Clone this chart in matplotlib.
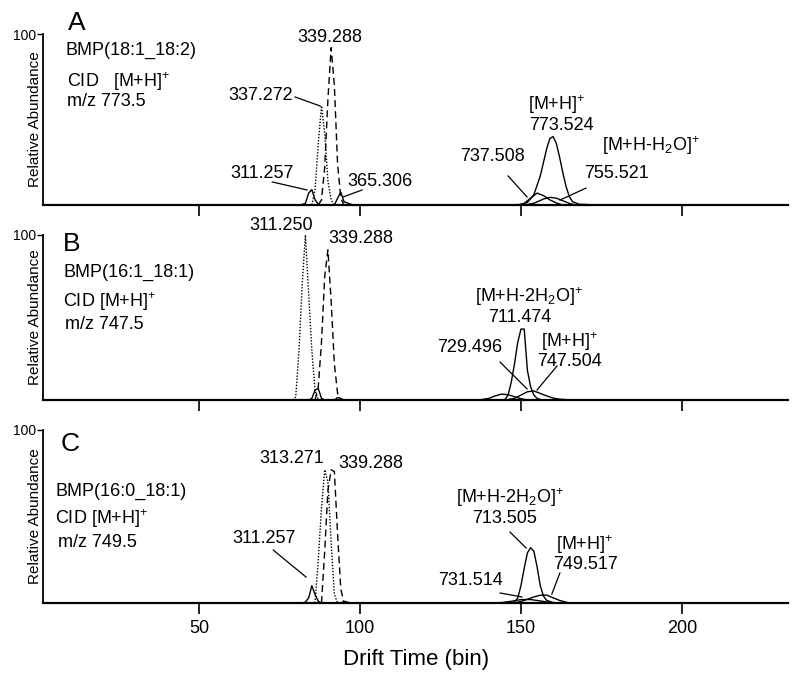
import matplotlib
matplotlib.use("Agg")
import matplotlib.pyplot as plt

plt.rcParams['font.family'] = ['Liberation Sans', 'DejaVu Sans']
plt.rcParams['mathtext.fontset'] = 'custom'
plt.rcParams['mathtext.rm'] = 'Liberation Sans'
plt.rcParams['mathtext.default'] = 'regular'

# ---- panel A : BMP(18:1_18:2) ----
a339_x = [87, 88, 89, 90, 91, 92, 93, 94, 95]
a339_y = [0, 3, 22, 62, 92, 70, 24, 4, 0]
a337_x = [85, 86, 87, 88, 89, 90, 91, 92]
a337_y = [0, 9, 36, 58, 42, 14, 3, 0]
a311_x = [81, 82, 83, 84, 85, 86, 87, 88]
a311_y = [0, 0.3, 1, 7, 9, 3, 0.5, 0]
a365_x = [92, 93, 94, 95, 96, 97, 98]
a365_y = [0, 4, 7.5, 2, 1.2, 0.5, 0]
a773_x = [144, 150, 152, 154, 156, 157, 158, 159, 160, 161, 162, 163, 164, 165, 166, 168, 174]
a773_y = [0, 0.3, 1.5, 6, 17, 25, 33, 39, 40, 36, 28, 19, 11, 5, 2, 0.5, 0]
a737_x = [149, 151, 153, 155, 157, 159, 161, 163]
a737_y = [0, 1, 4, 7, 5.5, 3, 1.2, 0]
a755_x = [151, 154, 157, 159, 161, 163, 165, 167]
a755_y = [0, 1, 3.5, 4.5, 4, 2.5, 1, 0]

# ---- panel B : BMP(16:1_18:1) ----
b311_x = [79, 80, 81, 82, 83, 84, 85, 86, 87]
b311_y = [0, 2, 30, 70, 100, 65, 30, 6, 0]
b339_x = [86, 87, 88, 89, 90, 91, 92, 93, 94]
b339_y = [0, 8, 35, 75, 91, 60, 22, 4, 0]
bsmall_x = [84, 85, 86, 87, 88, 89, 92, 93, 94, 95]
bsmall_y = [0, 1, 6, 7, 1, 0, 0, 1.5, 1, 0]
b711_x = [144, 145, 146, 147, 148, 149, 150, 151, 152, 153, 154, 155, 156, 158]
b711_y = [0, 0.3, 3, 11, 22, 35, 43, 43, 18, 8, 3, 1, 0.3, 0]
b747_x = [145, 148, 150, 152, 154, 156, 158, 160, 162, 166]
b747_y = [0, 1, 3, 5, 5.5, 4, 2.5, 1.2, 0.5, 0]
b729_x = [137, 140, 142, 144, 146, 148, 150, 152]
b729_y = [0, 1, 2.5, 3.6, 3.2, 2, 0.8, 0]

# ---- panel C : BMP(16:0_18:1) ----
c313_x = [86, 87, 88, 89, 90, 91, 92, 93]
c313_y = [0, 25, 55, 77, 70, 35, 5, 0]
c339_x = [88, 89, 90, 91, 92, 93, 94, 95]
c339_y = [0, 30, 65, 77, 76, 40, 8, 0]
c311_x = [82, 83, 84, 85, 86, 87, 88, 94, 95, 96, 97]
c311_y = [0, 0.5, 3, 10, 5, 1, 0, 0, 1, 0.5, 0]
c713_x = [146, 148, 149, 150, 151, 152, 153, 154, 155, 156, 157, 158, 160, 162]
c713_y = [0, 0.5, 3, 10, 20, 29, 32, 30, 21, 10, 4, 1.5, 0.3, 0]
c749_x = [148, 151, 154, 156, 158, 160, 162, 165]
c749_y = [0, 1.5, 3.5, 4.5, 4.6, 3, 1.5, 0]
c731_x = [143, 147, 150, 153, 156, 160]
c731_y = [0, 1, 2, 2, 1.2, 0]

xticks = [50, 100, 150, 200]

dotted = (0, (1, 1.2))
dashed = (0, (5, 3))

fig = plt.figure(figsize=(8, 6.78), dpi=100)
axA = fig.add_axes([0.054, 0.6976, 0.931, 0.2522])
axB = fig.add_axes([0.054, 0.410, 0.931, 0.2434])
axC = fig.add_axes([0.054, 0.1106, 0.931, 0.2552])

for ax in (axA, axB, axC):
    ax.set_xlim(1.5, 233)
    ax.set_ylim(0, 100)
    ax.spines['top'].set_visible(False)
    ax.spines['right'].set_visible(False)
    ax.spines['left'].set_linewidth(1.3)
    ax.spines['bottom'].set_linewidth(1.6)
    ax.set_yticks([100])
    ax.set_yticklabels(['100'], fontsize=10)
    ax.tick_params(axis='y', length=4, width=1, pad=1)
    ax.set_xticks(xticks)
    ax.tick_params(axis='x', length=8, width=1.2, labelsize=13, pad=4)
    ax.text(-0.011, 0.5, 'Relative Abundance', transform=ax.transAxes, rotation=90,
            ha='center', va='center', fontsize=11)
axA.set_xticklabels([])
axB.set_xticklabels([])
axC.set_xlabel('Drift Time (bin)', fontsize=16, labelpad=9)

lw = 1.0
k = 'black'


def line(ax, p, q):
    ax.plot(p, q, color=k, lw=0.9, clip_on=False)


# panel A
axA.plot(a339_x, a339_y, color=k, lw=lw, ls=dashed)
axA.plot(a337_x, a337_y, color=k, lw=lw, ls=dotted)
axA.plot(a311_x, a311_y, color=k, lw=lw)
axA.plot(a365_x, a365_y, color=k, lw=lw)
axA.plot(a773_x, a773_y, color=k, lw=lw)
axA.plot(a737_x, a737_y, color=k, lw=lw)
axA.plot(a755_x, a755_y, color=k, lw=lw)
axA.text(0.033, 1.064, 'A', transform=axA.transAxes, fontsize=19, va='center', ha='left')
axA.text(0.0295, 0.906, 'BMP(18:1_18:2)', transform=axA.transAxes, fontsize=13, va='center')
axA.text(0.032, 0.719, 'CID   [M+H]$^{+}$', transform=axA.transAxes, fontsize=13, va='center')
axA.text(0.032, 0.608, 'm/z 773.5', transform=axA.transAxes, fontsize=13, va='center')
axA.text(90.7, 98, '339.288', fontsize=13, ha='center', va='center')
axA.text(69.1, 64.3, '337.272', fontsize=13, ha='center', va='center')
line(axA, [79.8, 87.6], [63.2, 57.9])
axA.text(69.4, 18.7, '311.257', fontsize=13, ha='center', va='center')
line(axA, [72.7, 83.5], [13.5, 8.8])
axA.text(106.2, 13.5, '365.306', fontsize=13, ha='center', va='center')
line(axA, [100.6, 94.7], [8.8, 4.7])
axA.text(161.2, 58.5, '[M+H]$^{+}$', fontsize=13, ha='center', va='center')
axA.text(162.7, 46.8, '773.524', fontsize=13, ha='center', va='center')
axA.text(190.4, 34.5, '[M+H-H$_{2}$O]$^{+}$', fontsize=13, ha='center', va='center')
axA.text(141, 28.1, '737.508', fontsize=13, ha='center', va='center')
line(axA, [146, 151.9], [17, 4.7])
axA.text(179.8, 18.7, '755.521', fontsize=13, ha='center', va='center')
line(axA, [170.2, 162.1], [9.9, 2.9])

# panel B
axB.plot(b311_x, b311_y, color=k, lw=lw, ls=dotted, clip_on=False)
axB.plot(b339_x, b339_y, color=k, lw=lw, ls=dashed)
axB.plot(bsmall_x, bsmall_y, color=k, lw=lw)
axB.plot(b711_x, b711_y, color=k, lw=lw)
axB.plot(b747_x, b747_y, color=k, lw=lw)
axB.plot(b729_x, b729_y, color=k, lw=lw)
axB.text(0.027, 0.945, 'B', transform=axB.transAxes, fontsize=19, va='center', ha='left')
axB.text(0.027, 0.773, 'BMP(16:1_18:1)', transform=axB.transAxes, fontsize=13, va='center')
axB.text(0.027, 0.596, 'CID [M+H]$^{+}$', transform=axB.transAxes, fontsize=13, va='center')
axB.text(0.0295, 0.455, 'm/z 747.5', transform=axB.transAxes, fontsize=13, va='center')
axB.text(75.5, 105.5, '311.250', fontsize=13, ha='center', va='center')
axB.text(100.2, 97.6, '339.288', fontsize=13, ha='center', va='center')
axB.text(152.6, 62.5, '[M+H-2H$_{2}$O]$^{+}$', fontsize=13, ha='center', va='center')
axB.text(149.7, 50.3, '711.474', fontsize=13, ha='center', va='center')
axB.text(134, 32.1, '729.496', fontsize=13, ha='center', va='center')
line(axB, [143.5, 151.9], [23, 6.7])
axB.text(165.1, 35.5, '[M+H]$^{+}$', fontsize=13, ha='center', va='center')
axB.text(165.1, 23.6, '747.504', fontsize=13, ha='center', va='center')
line(axB, [161.2, 155], [20.6, 6.1])

# panel C
axC.plot(c313_x, c313_y, color=k, lw=lw, ls=dotted)
axC.plot(c339_x, c339_y, color=k, lw=lw, ls=dashed)
axC.plot(c311_x, c311_y, color=k, lw=lw)
axC.plot(c713_x, c713_y, color=k, lw=lw)
axC.plot(c749_x, c749_y, color=k, lw=lw)
axC.plot(c731_x, c731_y, color=k, lw=lw)
axC.text(0.023, 0.919, 'C', transform=axC.transAxes, fontsize=19, va='center', ha='left')
axC.text(0.016, 0.647, 'BMP(16:0_18:1)', transform=axC.transAxes, fontsize=13, va='center')
axC.text(0.016, 0.486, 'CID [M+H]$^{+}$', transform=axC.transAxes, fontsize=13, va='center')
axC.text(0.020, 0.350, 'm/z 749.5', transform=axC.transAxes, fontsize=13, va='center')
axC.text(78.7, 83.8, '313.271', fontsize=13, ha='center', va='center')
axC.text(103.4, 80.9, '339.288', fontsize=13, ha='center', va='center')
axC.text(70, 37, '311.257', fontsize=13, ha='center', va='center')
line(axC, [73, 83.2], [30.6, 15])
axC.text(146.7, 61, '[M+H-2H$_{2}$O]$^{+}$', fontsize=13, ha='center', va='center')
axC.text(144.9, 49.1, '713.505', fontsize=13, ha='center', va='center')
line(axC, [146.6, 151.6], [41, 31.8])
axC.text(169.9, 33.5, '[M+H]$^{+}$', fontsize=13, ha='center', va='center')
axC.text(170, 22.0, '749.517', fontsize=13, ha='center', va='center')
line(axC, [162.1, 159.6], [17.4, 5.2])
axC.text(134.3, 13.3, '731.514', fontsize=13, ha='center', va='center')
line(axC, [143.5, 150.3], [5.8, 3.5])

fig.savefig('out.png', dpi=100)
